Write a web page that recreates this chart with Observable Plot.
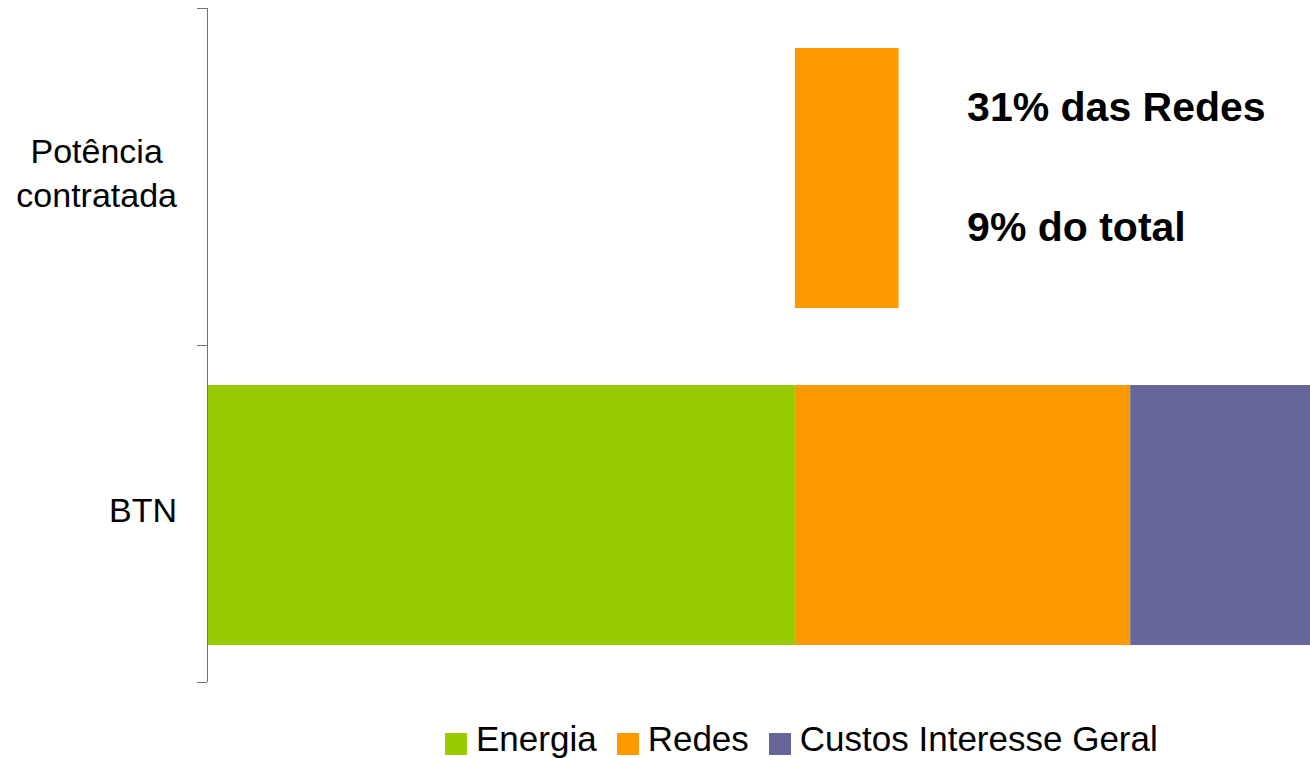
<!DOCTYPE html>
<html>
<head>
<meta charset="utf-8">
<script src="https://cdn.jsdelivr.net/npm/d3@7"></script>
<script src="https://cdn.jsdelivr.net/npm/@observablehq/plot@0.6"></script>
<style>
  html, body { margin: 0; padding: 0; background: #fff; }
  body { font-family: "Liberation Sans", Arial, sans-serif; }
  #page { position: relative; width: 1310px; height: 758px; overflow: hidden; }
  #legend { position: absolute; left: 445px; top: 721px; display: flex; align-items: flex-start;
            font-size: 35px; line-height: 35px; color: #000; white-space: nowrap; }
  .item { display: flex; align-items: flex-start; margin-right: 20px; }
  .sw { width: 22px; height: 22px; margin-top: 12px; margin-right: 9px; }
</style>
</head>
<body>
<div id="page"><div id="chart"></div><div id="legend"></div></div>
<script>
// ---- data ----
const categories = ["Potência contratada", "BTN"];
const categoryLabels = ["Potência\ncontratada", "BTN"];
const components = ["Energia", "Redes", "Custos Interesse Geral"];
const colors = ["#99CC00", "#FF9900", "#666699"];
// BTN breakdown (% of total)
const btnValues = [53.3, 30.4, 16.3];
// Potência contratada: invisible Energia offset + Redes share
const potenciaValues = [53.3, 9.4, 0];
const potenciaHidden = [true, false, false];
const annotations = ["31% das Redes", "9% do total"];

const rows = [];
components.forEach((comp, i) => {
  rows.push({cat: categories[0], comp, value: potenciaValues[i], hidden: potenciaHidden[i]});
  rows.push({cat: categories[1], comp, value: btnValues[i], hidden: false});
});

const potenciaEnd = d3.sum(potenciaValues);

// custom y axis: ticks at band boundaries + right-aligned blocks of centered lines
function yAxis(index, scales, values, dims) {
  const y = scales.y;
  const bw = (y && y.bandwidth) ? y.bandwidth()
    : (dims.height - dims.marginTop - dims.marginBottom) / categories.length;
  const x0 = dims.marginLeft;
  const g = d3.create("svg:g");
  const edges = new Set();
  categories.forEach(c => { edges.add(Math.round(y(c))); edges.add(Math.round(y(c) + bw)); });
  for (const e of edges) {
    g.append("line").attr("x1", x0 - 10).attr("x2", x0).attr("y1", e + 0.5).attr("y2", e + 0.5)
      .attr("stroke", "#707070").attr("stroke-width", 1);
  }
  const ctx = document.createElement("canvas").getContext("2d");
  ctx.font = "34px 'Liberation Sans', Arial, sans-serif";
  categories.forEach((c, k) => {
    const lines = categoryLabels[k].split("\n");
    const maxW = d3.max(lines, l => ctx.measureText(l).width);
    const right = x0 - 30;
    const cx = right - maxW / 2;
    const cy = y(c) + bw / 2;
    const n = lines.length;
    lines.forEach((l, i) => {
      g.append("text").attr("x", cx).attr("y", cy + 8 + (i - (n - 1) / 2) * 44)
        .attr("text-anchor", "middle").attr("font-size", 34).attr("fill", "#000")
        .attr("font-family", "'Liberation Sans', Arial, sans-serif").text(l);
    });
  });
  return g.node();
}

const chart = Plot.plot({
  width: 1310,
  height: 700,
  marginLeft: 207,
  marginRight: 0,
  marginTop: 8,
  marginBottom: 18,
  style: {background: "white", fontFamily: "'Liberation Sans', Arial, sans-serif", overflow: "visible"},
  x: {domain: [0, 100], axis: null},
  y: {domain: categories, paddingInner: 0, paddingOuter: 0, axis: null},
  color: {domain: components, range: colors},
  opacity: {type: "identity"},
  marks: [
    Plot.barX(rows, Plot.stackX({
      x: "value", y: "cat", fill: "comp",
      fillOpacity: d => d.hidden ? 0 : 1,
      insetTop: 40, insetBottom: 37, order: components
    })),
    Plot.ruleX([0], {stroke: "#707070", strokeWidth: 1}),
    yAxis,
    Plot.text([{cat: categories[0], x: potenciaEnd, label: annotations.join("\n")}], {
      x: "x", y: "cat", text: "label", textAnchor: "start", dx: 68, dy: -34.5,
      lineHeight: 2.93, fontSize: 41, fontWeight: "bold", fill: "#000"
    })
  ]
});
document.getElementById("chart").appendChild(chart);

const legend = d3.select("#legend");
components.forEach((c, i) => {
  const it = legend.append("div").attr("class", "item");
  it.append("div").attr("class", "sw").style("background", colors[i]);
  it.append("span").text(c);
});
</script>
</body>
</html>
